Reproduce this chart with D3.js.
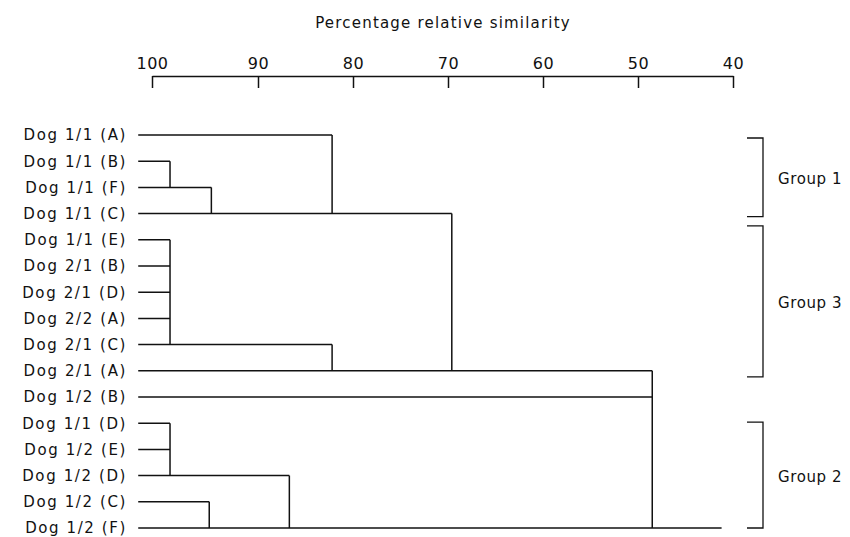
<!DOCTYPE html>
<html>
<head>
<meta charset="utf-8">
<script src="https://cdn.jsdelivr.net/npm/d3@7"></script>
<style>
  html, body { margin: 0; padding: 0; background: #fff; }
  svg { display: block; }
  text { font-family: "DejaVu Sans", sans-serif; fill: #111; }
</style>
</head>
<body>
<svg id="chart" width="850" height="537"></svg>
<script>
// ---- data ----
const leaves = [
  "Dog 1/1 (A)", "Dog 1/1 (B)", "Dog 1/1 (F)", "Dog 1/1 (C)",
  "Dog 1/1 (E)", "Dog 2/1 (B)", "Dog 2/1 (D)", "Dog 2/2 (A)",
  "Dog 2/1 (C)", "Dog 2/1 (A)", "Dog 1/2 (B)", "Dog 1/1 (D)",
  "Dog 1/2 (E)", "Dog 1/2 (D)", "Dog 1/2 (C)", "Dog 1/2 (F)"
];
// similarity level (%) at which each join happens
const mergeLevels = [98.3, 94.4, 82.2, 69.6, 98.3, 82.2, 48.5, 98.3, 86.7, 94.6];
// rows whose horizontal lines meet at that join
const mergeRows = [
  ["Dog 1/1 (B)", "Dog 1/1 (F)"],
  ["Dog 1/1 (F)", "Dog 1/1 (C)"],
  ["Dog 1/1 (A)", "Dog 1/1 (C)"],
  ["Dog 1/1 (C)", "Dog 2/1 (A)"],
  ["Dog 1/1 (E)", "Dog 2/1 (B)", "Dog 2/1 (D)", "Dog 2/2 (A)", "Dog 2/1 (C)"],
  ["Dog 2/1 (C)", "Dog 2/1 (A)"],
  ["Dog 2/1 (A)", "Dog 1/2 (B)", "Dog 1/2 (F)"],
  ["Dog 1/1 (D)", "Dog 1/2 (E)", "Dog 1/2 (D)"],
  ["Dog 1/2 (D)", "Dog 1/2 (F)"],
  ["Dog 1/2 (C)", "Dog 1/2 (F)"]
];
const leafStart = 101.3;   // where leaf lines begin
const rootTail = 41.2;     // root line continues to this level
const rootRow = "Dog 1/2 (F)";
const tickValues = [100, 90, 80, 70, 60, 50, 40];
const axisTitle = "Percentage relative similarity";
const groupNames = ["Group 1", "Group 3", "Group 2"];
const groupFirst = ["Dog 1/1 (A)", "Dog 1/1 (E)", "Dog 1/1 (D)"];
const groupLast = ["Dog 1/1 (C)", "Dog 2/1 (A)", "Dog 1/2 (F)"];

// ---- drawing ----
const svg = d3.select("#chart");
const x = d3.scaleLinear().domain([100, 90, 40]).range([152, 258, 733]);
const y = d3.scalePoint().domain(leaves).range([135, 528]);

// title
svg.append("text")
  .attr("x", 443).attr("y", 28)
  .attr("text-anchor", "middle")
  .style("font-size", "15px")
  .style("letter-spacing", "1.2px")
  .text(axisTitle);

// axis
const axis = d3.axisTop(x).tickValues(tickValues).tickSizeInner(-12).tickSizeOuter(0).tickPadding(7)
  .tickFormat(d3.format("d"));
const gAxis = svg.append("g").attr("transform", "translate(0,76)").call(axis);
gAxis.select(".domain").attr("stroke", "#111").attr("stroke-width", 1.5);
gAxis.selectAll(".tick line").attr("stroke", "#111").attr("stroke-width", 1.5);
gAxis.selectAll(".tick text")
  .attr("fill", "#111")
  .style("font-family", "DejaVu Sans, sans-serif")
  .style("font-size", "16px")
  .style("letter-spacing", "0.5px");

// row end levels
const rowEnd = {};
leaves.forEach(l => rowEnd[l] = 100);
mergeRows.forEach((rows, i) => rows.forEach(r => {
  rowEnd[r] = Math.min(rowEnd[r], mergeLevels[i]);
}));
rowEnd[rootRow] = Math.min(rowEnd[rootRow], rootTail);

const g = svg.append("g")
  .attr("stroke", "#111").attr("stroke-width", 1.5).attr("fill", "none");

// horizontal leaf lines
g.selectAll("line.h").data(leaves).join("line")
  .attr("class", "h")
  .attr("x1", x(leafStart)).attr("x2", d => x(rowEnd[d]))
  .attr("y1", d => y(d)).attr("y2", d => y(d));

// vertical join lines
g.selectAll("line.v").data(mergeLevels).join("line")
  .attr("class", "v")
  .attr("x1", d => x(d)).attr("x2", d => x(d))
  .attr("y1", (d, i) => d3.min(mergeRows[i], r => y(r)))
  .attr("y2", (d, i) => d3.max(mergeRows[i], r => y(r)));

// leaf labels
svg.selectAll("text.leaf").data(leaves).join("text")
  .attr("class", "leaf")
  .attr("x", 127).attr("y", d => y(d))
  .attr("dy", "0.36em")
  .attr("text-anchor", "end")
  .style("font-size", "15px")
  .style("letter-spacing", "1.6px")
  .text(d => d);

// group brackets
const bx0 = 747, bx1 = 763;
const topPad = [3, -14, -1], botPad = [3, 6, 0];
groupNames.forEach((name, i) => {
  const y0 = y(groupFirst[i]) + topPad[i];
  const y1 = y(groupLast[i]) + botPad[i];
  svg.append("path")
    .attr("d", `M${bx0},${y0}H${bx1}V${y1}H${bx0}`)
    .attr("fill", "none").attr("stroke", "#111").attr("stroke-width", 1.3);
  svg.append("text")
    .attr("x", 778).attr("y", (y0 + y1) / 2 + 1)
    .attr("dy", "0.36em")
    .style("font-size", "15px")
    .style("letter-spacing", "0.6px")
    .text(name);
});
</script>
</body>
</html>
